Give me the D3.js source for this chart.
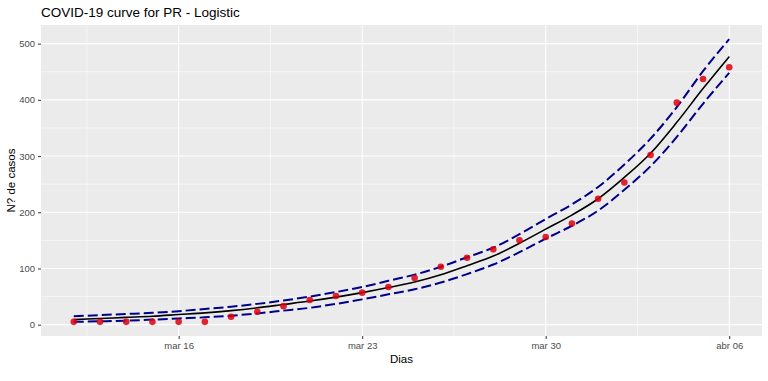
<!DOCTYPE html>
<html><head><meta charset="utf-8">
<script src="https://cdn.jsdelivr.net/npm/d3@7"></script>
<style>body{margin:0;background:#fff}svg{display:block}text{font-family:"Liberation Sans",Arial,sans-serif}</style>
</head><body><svg id="c" width="768" height="381"></svg>
<script>
const dates = ["2020-03-12","2020-03-13","2020-03-14","2020-03-15","2020-03-16","2020-03-17","2020-03-18","2020-03-19","2020-03-20","2020-03-21","2020-03-22","2020-03-23","2020-03-24","2020-03-25","2020-03-26","2020-03-27","2020-03-28","2020-03-29","2020-03-30","2020-03-31","2020-04-01","2020-04-02","2020-04-03","2020-04-04","2020-04-05","2020-04-06"];
const cases = [5,5,5,5,5,5,14,23,33,44,51,57,67,83,103,119,134,150,156,180,224,253,302,395,437,458];
const fit   = [9,11,13,15,18,21,25,30,36,42,49,57,66,76,89,105,122,145,170,195,224,262,305,360,420,477];
const upper = [15,17,19,21,24,28,32,37,43,50,58,67,78,89,103,120,137,161,188,214,245,285,331,387,451,508];
const lower = [5,6,7,9,11,13,16,20,25,30,37,45,54,63,75,90,107,129,153,176,203,240,282,334,393,448];
const xTicks = ["2020-03-16","2020-03-23","2020-03-30","2020-04-06"];
const xMinor = ["2020-03-12T12:00","2020-03-19T12:00","2020-03-26T12:00","2020-04-02T12:00"];
const yTicks = [0,100,200,300,400,500];
const yMinor = [50,150,250,350,450];
const months = ["ene","feb","mar","abr","may","jun","jul","ago","sep","oct","nov","dic"];

const parse = s => new Date(s.length > 10 ? s : s + "T00:00");
const rows = dates.map((d,i)=>({t:parse(d), c:cases[i], f:fit[i], u:upper[i], l:lower[i]}));

const svg = d3.select("#c");
const P = {l:41, r:762, t:25, b:336};

const tExt = d3.extent(rows, d=>d.t);
const tPad = (tExt[1]-tExt[0])*0.05;
const x = d3.scaleTime().domain([new Date(+tExt[0]-tPad), new Date(+tExt[1]+tPad)]).range([P.l,P.r]);
const yMinV = d3.min([...cases,...lower]), yMaxV = d3.max([...cases,...upper]);
const yPad = (yMaxV-yMinV)*0.05;
const y = d3.scaleLinear().domain([yMinV-yPad, yMaxV+yPad]).range([P.b,P.t]);

svg.append("rect").attr("x",P.l).attr("y",P.t).attr("width",P.r-P.l).attr("height",P.b-P.t).attr("fill","#EBEBEB");
const g = svg.append("g");
yMinor.forEach(v=>g.append("line").attr("x1",P.l).attr("x2",P.r).attr("y1",y(v)).attr("y2",y(v)).attr("stroke","#fff").attr("stroke-width",0.55));
xMinor.forEach(s=>{const xx=x(parse(s)); g.append("line").attr("x1",xx).attr("x2",xx).attr("y1",P.t).attr("y2",P.b).attr("stroke","#fff").attr("stroke-width",0.55);});
yTicks.forEach(v=>g.append("line").attr("x1",P.l).attr("x2",P.r).attr("y1",y(v)).attr("y2",y(v)).attr("stroke","#fff").attr("stroke-width",1.1));
xTicks.forEach(s=>{const xx=x(parse(s)); g.append("line").attr("x1",xx).attr("x2",xx).attr("y1",P.t).attr("y2",P.b).attr("stroke","#fff").attr("stroke-width",1.1);});

const fmt = d => months[d.getMonth()] + " " + String(d.getDate()).padStart(2,"0");
const xAxis = d3.axisBottom(x).tickValues(xTicks.map(parse)).tickFormat(fmt).tickSize(3).tickPadding(3);
const yAxis = d3.axisLeft(y).tickValues(yTicks).tickSize(3).tickPadding(3);
const ax = svg.append("g").attr("transform",`translate(0,${P.b})`).call(xAxis);
const ay = svg.append("g").attr("transform",`translate(${P.l},0)`).call(yAxis);
[ax,ay].forEach(a=>{a.select(".domain").remove(); a.selectAll("line").attr("stroke","#333"); a.selectAll("text").attr("fill","#4D4D4D").style("font-size","9.5px").style("font-family","'Liberation Sans',Arial,sans-serif");});

const mk = k => d3.line().x(d=>x(d.t)).y(d=>y(d[k])).curve(d3.curveMonotoneX);
svg.append("path").datum(rows).attr("d",mk("f")).attr("fill","none").attr("stroke","#000").attr("stroke-width",1.6);
["u","l"].forEach(k=>svg.append("path").datum(rows).attr("d",mk(k)).attr("fill","none").attr("stroke","#00008B").attr("stroke-width",2).attr("stroke-dasharray","10,4"));
svg.append("g").selectAll("circle").data(rows).join("circle").attr("cx",d=>x(d.t)).attr("cy",d=>y(d.c)).attr("r",3.3).attr("fill","#DD0010").attr("opacity",0.85);

svg.append("text").attr("x",P.l).attr("y",17).text("COVID-19 curve for PR - Logistic").style("font-size","13.5px").attr("fill","#000");
svg.append("text").attr("x",(P.l+P.r)/2).attr("y",363).attr("text-anchor","middle").text("Dias").style("font-size","11.5px").attr("fill","#000");
svg.append("text").attr("transform",`translate(15,${(P.t+P.b)/2}) rotate(-90)`).attr("text-anchor","middle").text("N? de casos").style("font-size","11.5px").attr("fill","#000");
</script></body></html>
